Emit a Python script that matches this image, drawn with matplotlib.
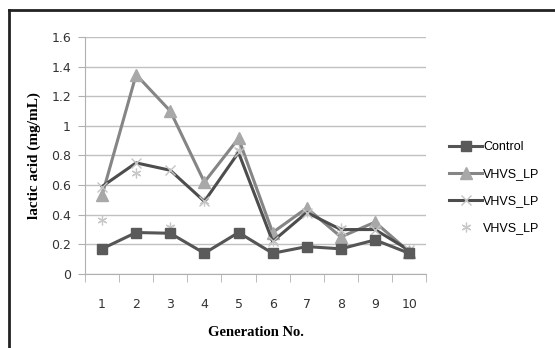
#!/usr/bin/env python3
"""Lactic acid per generation - recreated chart"""

import matplotlib.pyplot as plt
from matplotlib.lines import Line2D

# Data
generations = [1, 2, 3, 4, 5, 6, 7, 8, 9, 10]
control = [0.17, 0.28, 0.275, 0.14, 0.28, 0.14, 0.185, 0.17, 0.23, 0.14]
vhvs_tri = [0.53, 1.345, 1.10, 0.62, 0.915, 0.28, 0.445, 0.25, 0.35, 0.15]
vhvs_x = [0.59, 0.75, 0.70, 0.49, 0.82, 0.22, 0.415, 0.30, 0.30, 0.16]
vhvs_star = [0.365, 0.68, 0.32, 0.49, 0.84, 0.22, 0.42, 0.31, 0.33, 0.16]
labels = ['Control', 'VHVS_LP', 'VHVS_LP', 'VHVS_LP']
y_ticks = [0, 0.2, 0.4, 0.6, 0.8, 1, 1.2, 1.4, 1.6]

fig = plt.figure(figsize=(5.55, 3.48), dpi=100)
ax = fig.add_axes([0.153, 0.2126, 0.615, 0.6814])

ax.plot(generations, control, color='#555555', lw=2.2, marker='s', ms=7.5,
        mfc='#5a5a5a', mec='#5a5a5a', label=labels[0], zorder=4)
ax.plot(generations, vhvs_tri, color='#858585', lw=2.2, marker='^', ms=8,
        mfc='#a8a8a8', mec='#a8a8a8', label=labels[1], zorder=3)
ax.plot(generations, vhvs_x, color='#4d4d4d', lw=2.2, marker='x', ms=7,
        mew=1.0, mec='#c4c4c4', label=labels[2], zorder=3)
ax.plot(generations, vhvs_star, ls='none', marker=(6, 2, 0), ms=7,
        mew=0.9, mec='#c8c8c8', label=labels[3], zorder=2)

ax.set_xlim(0.5, 10.5)
ax.set_ylim(0, 1.6)
ax.set_yticks(y_ticks)
ax.set_yticklabels(['0', '0.2', '0.4', '0.6', '0.8', '1', '1.2', '1.4', '1.6'])
ax.set_xticks(generations)
ax.set_xticks([g + 0.5 for g in [0] + generations], minor=True)
ax.set_xticklabels([str(g) for g in generations])

ax.grid(axis='y', color='#c0c0c0', lw=1)
ax.set_axisbelow(True)
for s in ['top', 'right']:
    ax.spines[s].set_visible(False)
ax.spines['left'].set_color('#b0b0b0')
ax.spines['bottom'].set_color('#b0b0b0')

ax.tick_params(axis='x', which='major', length=0, pad=17, labelsize=9,
               labelcolor='#333333')
ax.tick_params(axis='x', which='minor', length=6, color='#b0b0b0')
ax.tick_params(axis='y', length=5, color='#b0b0b0', pad=5, labelsize=9,
               labelcolor='#333333')

ax.set_ylabel('lactic acid (mg/mL)', family='Liberation Serif',
              fontweight='bold', fontsize=11, labelpad=7)
ax.set_xlabel('Generation No.', family='Liberation Serif',
              fontweight='bold', fontsize=10.5, labelpad=11)

ax.legend(loc='center left', bbox_to_anchor=(1.035, 0.365), frameon=False,
          prop={'family': 'Liberation Sans', 'size': 9}, handlelength=2.6,
          handletextpad=0.1, labelspacing=1.2)

# outer frame lines (top and left)
fig.add_artist(Line2D([0.0155, 1.0], [0.972, 0.972], color='#222222', lw=2,
                      transform=fig.transFigure))
fig.add_artist(Line2D([0.0155, 0.0155], [0.0, 0.972], color='#222222', lw=2,
                      transform=fig.transFigure))

plt.savefig('out.png', dpi=100)
